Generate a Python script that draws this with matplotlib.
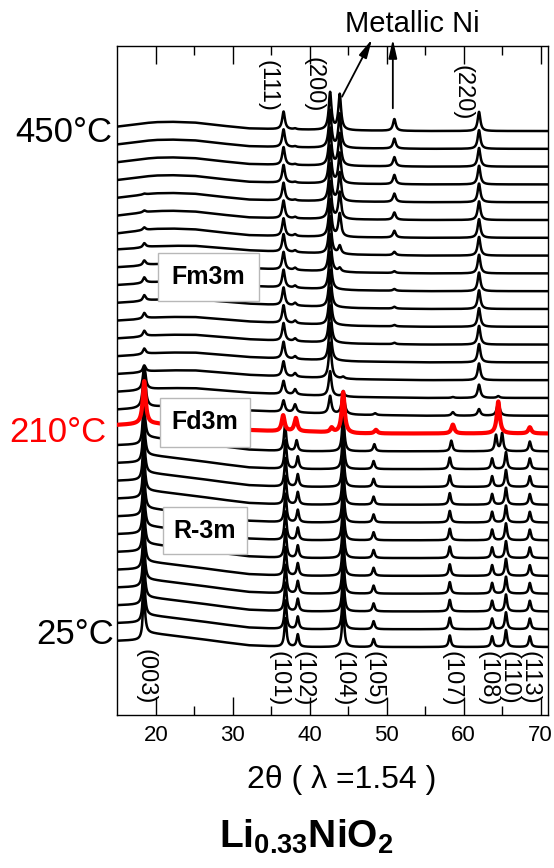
import matplotlib.pyplot as plt
import numpy as np
from matplotlib.patches import Rectangle

plt.rcParams['font.family'] = ['Liberation Sans', 'DejaVu Sans']
plt.rcParams['mathtext.fontset'] = 'custom'
plt.rcParams['mathtext.rm'] = 'Liberation Sans'
plt.rcParams['mathtext.bf'] = 'Liberation Sans:bold'

W, H = 554, 868

# ---- values ----
N_SCANS = 30        # 25 C at the bottom ... 450 C at the top, one unit apart
RED_SCAN = 12       # the 210 C scan

# background levels above each scan's base line, at these 2-theta anchors
BG_X = [15, 17, 18.2, 18.7, 20, 22, 25, 28, 32, 36, 40, 46, 55, 71]
BG_R3M = [0.35, 0.38, 0.40, 0.80, 0.75, 0.65, 0.50, 0.32, 0.10, 0.02, 0.0, 0.0, 0.0, 0.0]
BG_RED = [0.48, 0.52, 0.55, 0.55, 0.55, 0.50, 0.42, 0.32, 0.20, 0.12, 0.10, 0.0, 0.0, 0.0]
BG_MID = [0.35, 0.40, 0.45, 0.50, 0.52, 0.55, 0.55, 0.45, 0.30, 0.22, 0.15, 0.05, 0.0, 0.0]
BG_TOP = [0.25, 0.35, 0.42, 0.45, 0.50, 0.52, 0.48, 0.33, 0.15, 0.10, 0.07, 0.03, 0.0, 0.0]

# R-3m scans (0..11)
R3M_HKL = ['(003)', '(101)', '(102)', '(104)', '(105)', '(107)', '(108)', '(110)', '(113)']
R3M_POS = [18.45, 36.85, 38.45, 44.35, 48.3, 58.2, 63.7, 65.5, 68.6]
R3M_HT = [2.4, 1.6, 0.7, 2.2, 0.45, 0.65, 0.6, 0.95, 0.6]
R3M_POS_11 = [18.45, 36.8, 38.3, 44.35, 48.4, 58.4, 64.2, 65.0, 68.6]
R3M_HT_11 = [2.4, 1.5, 0.6, 2.2, 0.4, 0.6, 0.9, 1.0, 0.55]
R3M_LABEL_X = [18.6, 36.0, 39.25, 44.4, 48.35, 58.4, 63.05, 65.8, 68.6]

# 210 C scan (Fd3m)
RED_POS = [18.5, 36.55, 38.2, 42.85, 44.35, 48.6, 58.6, 64.5, 68.6]
RED_HT = [2.4, 0.9, 0.75, 0.25, 2.3, 0.2, 0.5, 1.8, 0.35]

# scans 13..29 (Fm3m + metallic Ni)
UP_POS = [18.5, 36.6, 38.1, 42.65, 43.9, 44.35, 48.5, 51.0, 58.6, 62.0, 64.5]
P185_UP = [2.2, 1.3, 0.35, 0.3, 0.3, 0.3, 0.3, 0.3, 0.25, 0.22, 0.15, 0.1, 0.05, 0, 0, 0, 0]
P111_UP = [0.65, 0.75, 0.85, 0.95, 1.0, 1.0, 1.0, 1.0, 1.0, 1.0, 1.0, 1.0, 1.0, 1.0, 1.0, 1.0, 1.0]
P381_UP = [0.45, 0.3, 0.2, 0.15, 0.15, 0.15, 0.15, 0.12, 0.12, 0.1, 0.1, 0.08, 0.05, 0.05, 0.05, 0.05, 0.05]
P200_UP = [1.0, 1.4, 2.0, 2.1, 2.1, 2.1, 2.1, 2.1, 2.1, 2.1, 2.1, 2.1, 2.1, 2.1, 2.1, 2.1, 2.1]
NI111_UP = [0, 0, 0, 0, 0, 0, 0, 0, 0.2, 0.45, 1.3, 1.5, 1.6, 1.7, 1.8, 1.9, 2.0]
P444_UP = [1.3, 0.2, 0.1, 0, 0, 0, 0, 0, 0, 0, 0, 0, 0, 0, 0, 0, 0]
P485_UP = [0.1, 0, 0, 0, 0, 0, 0, 0, 0, 0, 0, 0, 0, 0, 0, 0, 0]
NI200_UP = [0, 0, 0, 0, 0.08, 0.08, 0.1, 0.1, 0.1, 0.19, 0.38, 0.41, 0.47, 0.52, 0.52, 0.56, 0.66]
P586_UP = [0.2, 0.05, 0, 0, 0, 0, 0, 0, 0, 0, 0, 0, 0, 0, 0, 0, 0]
P220_UP = [0.37, 0.75, 0.94, 1.03, 1.05, 1.05, 1.05, 1.05, 1.05, 1.05, 1.05, 1.05, 1.05, 1.05, 1.05, 1.05, 1.08]
P645_UP = [0.8, 0.1, 0, 0, 0, 0, 0, 0, 0, 0, 0, 0, 0, 0, 0, 0, 0]
CUB_HKL = ['(111)', '(200)', '(220)']
CUB_LABEL_X = [34.55, 40.5, 59.85]
CUB_LABEL_Y = [33.0, 33.15, 32.7]

TEMP_LABELS = ['25°C', '210°C', '450°C']


def px_x(p):
    return p / W


def px_y(p):
    return 1 - p / H


def scan(x, base, bg, pos, ht, w):
    y = base + np.interp(x, BG_X, bg)
    for p, h in zip(pos, ht):
        y = y + h / (1 + ((x - p) / w) ** 2)
    return y


x = np.linspace(15, 71, 3000)

fig = plt.figure(figsize=(W / 100, H / 100), dpi=100)
ax = fig.add_axes([px_x(117.3), px_y(715), (548.3 - 117.3) / W, (715 - 46) / H])

# R-3m scans
for i in range(RED_SCAN):
    pos, ht = (R3M_POS_11, R3M_HT_11) if i == 11 else (R3M_POS, R3M_HT)
    ax.plot(x, scan(x, i, BG_R3M, pos, ht, 0.17), color='k', lw=1.8, zorder=2)

# Fm3m / Ni scans
for j, i in enumerate(range(RED_SCAN + 1, N_SCANS)):
    ht = [P185_UP[j], P111_UP[j], P381_UP[j], P200_UP[j], NI111_UP[j], P444_UP[j],
          P485_UP[j], NI200_UP[j], P586_UP[j], P220_UP[j], P645_UP[j]]
    bg = BG_MID if i <= 22 else BG_TOP
    ax.plot(x, scan(x, i, bg, UP_POS, ht, 0.21), color='k', lw=1.8, zorder=2)

# 210 C scan in red
ax.plot(x, scan(x, RED_SCAN, BG_RED, RED_POS, RED_HT, 0.23), color='#ff0000', lw=3.0, zorder=3)

ax.set_xlim(15, 71)
ax.set_ylim(-3.82, 33.78)
ax.set_yticks([])
ax.set_xticks(range(20, 71, 10))
ax.set_xticks([25, 35, 45, 55, 65], minor=True)
ax.tick_params(which='major', direction='in', length=13, width=1.0, top=True,
               labelsize=16, pad=7)
ax.tick_params(which='minor', direction='in', length=6.5, width=1.0, top=True)
for s in ax.spines.values():
    s.set_linewidth(1.0)

# hkl labels
for lab, lx in zip(R3M_HKL, R3M_LABEL_X):
    ax.text(lx, -0.12 if lab == '(003)' else -0.25, lab, rotation=-90, ha='center',
            va='top', fontsize=17, zorder=4)
for lab, lx, ly in zip(CUB_HKL, CUB_LABEL_X, CUB_LABEL_Y):
    ax.text(lx, ly, lab, rotation=-90, ha='center', va='top', fontsize=17, zorder=4)

# metallic Ni arrows
arrow = dict(arrowstyle='-|>,head_length=0.8,head_width=0.18', color='k', lw=1.3,
             mutation_scale=14, shrinkA=0, shrinkB=0)
ax.annotate('', xy=(48.1, 34.16), xytext=(44.2, 30.93), arrowprops=arrow,
            annotation_clip=False)
ax.annotate('', xy=(50.8, 34.16), xytext=(50.8, 30.28), arrowprops=arrow,
            annotation_clip=False)
fig.text(px_x(412), px_y(32), 'Metallic Ni', ha='center', va='baseline', fontsize=21)

# phase boxes
for name, (x0, y0, x1, y1) in [('Fm3m', (158, 253, 259, 301)),
                               ('Fd3m', (160, 398, 250, 447)),
                               ('R-3m', (163, 507, 247, 554))]:
    ax.add_patch(Rectangle((px_x(x0), px_y(y1)), (x1 - x0) / W, (y1 - y0) / H,
                           transform=fig.transFigure, facecolor='white',
                           edgecolor='#b8b8b8', lw=1.0, zorder=10, clip_on=False))
    ax.text(px_x((x0 + x1) / 2), px_y((y0 + y1) / 2), name, transform=fig.transFigure,
            ha='center', va='center', fontsize=18, fontweight='bold', zorder=11)

# temperature labels
fig.text(px_x(113.5), px_y(644), TEMP_LABELS[0], ha='right', va='baseline', fontsize=25)
fig.text(px_x(106.5), px_y(441.7), TEMP_LABELS[1], ha='right', va='baseline',
         fontsize=25, color='#ff0000')
fig.text(px_x(112), px_y(142), TEMP_LABELS[2], ha='right', va='baseline', fontsize=25)

fig.text(px_x(342), px_y(788), '2θ ( λ =1.54 )', ha='center', va='baseline', fontsize=23)
fig.text(px_x(306), px_y(848), r'$\mathbf{Li_{0.33}NiO_2}$', ha='center',
         va='baseline', fontsize=28)

fig.savefig('out.png', dpi=100)
